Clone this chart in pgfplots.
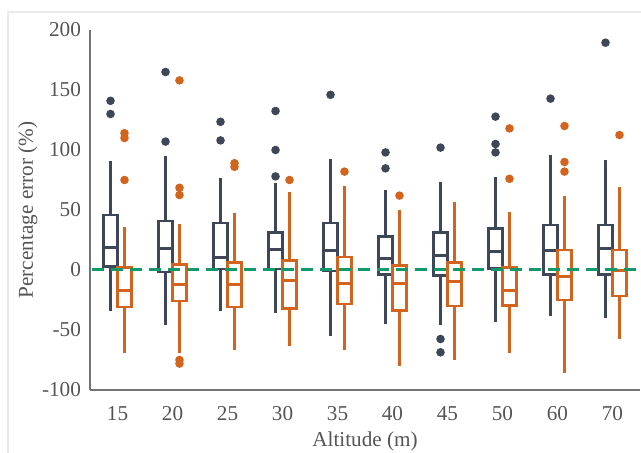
\documentclass[border=0pt]{standalone}
\usepackage{fontspec}
\setmainfont{Liberation Serif}
\usepackage{pgfplots}
\pgfplotsset{compat=1.18}
\usepgfplotslibrary{statistics}
\definecolor{cblue}{HTML}{3D4758}
\definecolor{corange}{HTML}{D2641E}
\definecolor{cgreen}{HTML}{12996A}
\definecolor{txt}{HTML}{555555}

\pgfplotsset{
  bl/.style={draw=cblue, line width=1.2pt, mark=*, mark size=1.5pt,
    mark options={fill=cblue, draw=cblue}},
  og/.style={draw=corange, line width=1.2pt, mark=*, mark size=1.5pt,
    mark options={fill=corange, draw=corange}},
}

\begin{document}
\begin{tikzpicture}
\useasboundingbox (-45pt,-31.5pt) rectangle (275.5pt,195pt);
\draw[black!8, line width=0.8pt] (-41pt,-40pt) rectangle (290pt,189pt);
\begin{axis}[
  scale only axis,
  width=275pt, height=180pt,
  xmin=-0.5, xmax=9.5,
  ymin=-100, ymax=200,
  axis lines=left,
  axis line style={-, draw=black!55, line width=0.6pt},
  major tick length=0pt,
  xtick={0,...,9},
  xticklabels={15,20,25,30,35,40,45,50,60,70},
  ytick={-100,-50,0,50,100,150,200},
  /pgf/number format/assume math mode=true,
  tick label style={font=\fontsize{10.6}{12}\selectfont, text=txt},
  xticklabel style={yshift=-4.5pt},
  yticklabel style={xshift=-1pt},
  every axis y label/.style={at={(axis description cs:-0.113,0.5)}, rotate=90, anchor=center},
  every axis x label/.style={at={(axis description cs:0.5,-0.142)}, anchor=center},
  label style={font=\fontsize{10.6}{12}\selectfont, text=txt},
  xlabel={Altitude (m)},
  ylabel={Percentage error (\%)},
  boxplot/draw direction=y,
  boxplot/box extend=0.25,
  boxplot/whisker extend=0.07,
  boxplot/draw/median/.code={%
    \draw[line width=1.5pt, line cap=butt]
      ({boxplot box cs:\pgfplotsboxplotvalue{median},0}) --
      ({boxplot box cs:\pgfplotsboxplotvalue{median},1});
  },
  clip=false,
]
% 15
\addplot[bl, boxplot prepared={draw position=-0.127, lower whisker=-33, lower quartile=3, median=19, upper quartile=46, upper whisker=90}]
  table[row sep=\\, y index=0] {y\\141\\130\\};
\addplot[og, boxplot prepared={draw position=0.127, lower whisker=-68, lower quartile=-31, median=-17, upper quartile=2, upper whisker=35}]
  table[row sep=\\, y index=0] {y\\114\\110\\75\\};
% 20
\addplot[bl, boxplot prepared={draw position=0.873, lower whisker=-45, lower quartile=-1.5, median=18, upper quartile=41, upper whisker=94}]
  table[row sep=\\, y index=0] {y\\165\\107\\};
\addplot[og, boxplot prepared={draw position=1.127, lower whisker=-68, lower quartile=-26, median=-12.5, upper quartile=4.7, upper whisker=37.5}]
  table[row sep=\\, y index=0] {y\\158\\68.5\\62.5\\-75\\-78\\};
% 25
\addplot[bl, boxplot prepared={draw position=1.873, lower whisker=-33, lower quartile=0.8, median=10.6, upper quartile=39.4, upper whisker=76}]
  table[row sep=\\, y index=0] {y\\123.5\\108\\};
\addplot[og, boxplot prepared={draw position=2.127, lower whisker=-66, lower quartile=-30.6, median=-11.7, upper quartile=6.4, upper whisker=46.7}]
  table[row sep=\\, y index=0] {y\\89\\86\\};
% 30
\addplot[bl, boxplot prepared={draw position=2.873, lower whisker=-35, lower quartile=0.6, median=16.7, upper quartile=31.4, upper whisker=71.4}]
  table[row sep=\\, y index=0] {y\\132.5\\100\\78\\};
\addplot[og, boxplot prepared={draw position=3.127, lower whisker=-62.5, lower quartile=-32, median=-8.6, upper quartile=7.8, upper whisker=64.4}]
  table[row sep=\\, y index=0] {y\\75\\};
% 35
\addplot[bl, boxplot prepared={draw position=3.873, lower whisker=-53.6, lower quartile=-0.8, median=16, upper quartile=39, upper whisker=91.7}]
  table[row sep=\\, y index=0] {y\\146\\};
\addplot[og, boxplot prepared={draw position=4.127, lower whisker=-66, lower quartile=-28.3, median=-11, upper quartile=11, upper whisker=69.4}]
  table[row sep=\\, y index=0] {y\\82\\};
% 40
\addplot[bl, boxplot prepared={draw position=4.873, lower whisker=-43.6, lower quartile=-3.9, median=9.7, upper quartile=27.8, upper whisker=66}]
  table[row sep=\\, y index=0] {y\\98\\84.7\\};
\addplot[og, boxplot prepared={draw position=5.127, lower whisker=-79, lower quartile=-33.6, median=-11, upper quartile=3.6, upper whisker=48.6}]
  table[row sep=\\, y index=0] {y\\62\\};
% 45
\addplot[bl, boxplot prepared={draw position=5.873, lower whisker=-45, lower quartile=-4.7, median=11.7, upper quartile=31.4, upper whisker=72}]
  table[row sep=\\, y index=0] {y\\102\\-57.5\\-68.6\\};
\addplot[og, boxplot prepared={draw position=6.127, lower whisker=-73.6, lower quartile=-30, median=-9.7, upper quartile=6.4, upper whisker=55.6}]
  coordinates {};
% 50
\addplot[bl, boxplot prepared={draw position=6.873, lower whisker=-42.5, lower quartile=1.4, median=15.3, upper quartile=34.7, upper whisker=76.4}]
  table[row sep=\\, y index=0] {y\\127.8\\105\\98\\};
\addplot[og, boxplot prepared={draw position=7.127, lower whisker=-68, lower quartile=-29.7, median=-17, upper quartile=2, upper whisker=47.2}]
  table[row sep=\\, y index=0] {y\\118\\76\\};
% 60
\addplot[bl, boxplot prepared={draw position=7.873, lower whisker=-37.5, lower quartile=-3.6, median=16, upper quartile=37.5, upper whisker=95}]
  table[row sep=\\, y index=0] {y\\142.8\\};
\addplot[og, boxplot prepared={draw position=8.127, lower whisker=-84.7, lower quartile=-25, median=-5.6, upper quartile=16.7, upper whisker=61}]
  table[row sep=\\, y index=0] {y\\120\\90\\82\\};
% 70
\addplot[bl, boxplot prepared={draw position=8.873, lower whisker=-39, lower quartile=-3.6, median=17.5, upper quartile=37.5, upper whisker=90.6}]
  table[row sep=\\, y index=0] {y\\189.4\\};
\addplot[og, boxplot prepared={draw position=9.127, lower whisker=-56.4, lower quartile=-21.7, median=-0.8, upper quartile=16.7, upper whisker=68}]
  table[row sep=\\, y index=0] {y\\112.5\\};
% zero line
\addplot[cgreen, line width=1.5pt, dash pattern=on 6pt off 3.5pt, no marks]
  coordinates {(-0.47,0) (9.5,0)};
\end{axis}
\end{tikzpicture}
\end{document}
